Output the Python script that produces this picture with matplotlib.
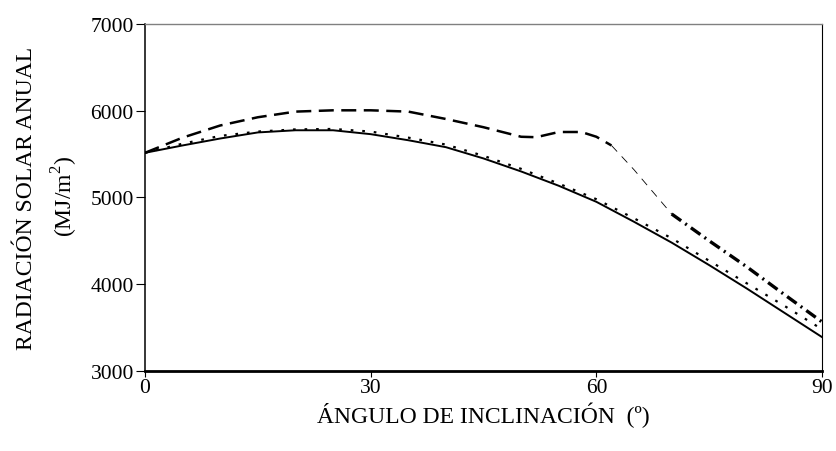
import numpy as np
import matplotlib.pyplot as plt

# annual solar radiation (MJ/m2) vs tilt angle
ang = [0, 5, 10, 15, 20, 25, 30, 35, 40, 45, 50, 55, 60, 65, 70, 75, 80, 85, 90]
solid = [5515, 5600, 5680, 5750, 5775, 5775, 5730, 5660, 5580, 5450, 5300,
         5135, 4950, 4720, 4480, 4220, 3950, 3670, 3390]
dotted = [5515, 5620, 5710, 5760, 5785, 5790, 5760, 5690, 5610, 5480, 5330,
          5160, 4980, 4760, 4530, 4270, 4010, 3750, 3480]

ang_d = [0, 5, 10, 15, 20, 25, 30, 35, 40, 45, 50, 52, 55, 58, 60, 62, 65, 70,
         75, 80, 85, 90]
dashed = [5515, 5690, 5830, 5925, 5990, 6005, 6005, 5990, 5905, 5810, 5700,
          5695, 5755, 5755, 5700, 5600, 5320, 4810, 4500, 4200, 3880, 3565]

plt.rcParams['font.family'] = ['Liberation Serif', 'DejaVu Serif']
plt.rcParams['mathtext.fontset'] = 'custom'
plt.rcParams['mathtext.rm'] = 'Liberation Serif'

fig = plt.figure(figsize=(8.36, 4.52), dpi=100)
ax = fig.add_axes([0.1734, 0.177, 0.81, 0.7677])

ax.plot(ang, solid, color='black', lw=1.4)
ax.plot(ang, dotted, color='black', lw=1.6, dashes=(1.2, 4))
i62 = ang_d.index(62)
i70 = ang_d.index(70)
ax.plot(ang_d[:i62 + 1], dashed[:i62 + 1], color='black', lw=1.8, dashes=(6, 3))
ax.plot(ang_d[i62:i70 + 1], dashed[i62:i70 + 1], color='black', lw=0.6, dashes=(10, 8))
ax.plot(ang_d[i70:], dashed[i70:], color='black', lw=2.4, dashes=(3.5, 1.5, 0.6, 1.5))

ax.set_xlim(0, 90)
ax.set_ylim(3000, 7000)
ax.set_xticks([0, 30, 60, 90])
ax.set_yticks([3000, 4000, 5000, 6000, 7000])
ax.tick_params(axis='y', direction='out', length=6.5, width=0.8, pad=1.5, labelsize=15.5)
ax.tick_params(axis='x', direction='out', length=4, width=0.8, pad=1, labelsize=15.5)

ax.spines['top'].set_color('#808080')
ax.spines['top'].set_linewidth(1.0)
ax.spines['right'].set_linewidth(0.8)
ax.spines['left'].set_linewidth(1.1)
ax.spines['bottom'].set_linewidth(2.0)

ax.set_xlabel('ÁNGULO DE INCLINACIÓN  (º)', fontsize=17, labelpad=3)
fig.text(0.032, 0.562, 'RADIACIÓN SOLAR ANUAL', rotation=90, fontsize=17,
         ha='center', va='center')
fig.text(0.078, 0.566, '(MJ/m$^2$)', rotation=90, fontsize=17,
         ha='center', va='center')

fig.savefig('out.png', dpi=100)
